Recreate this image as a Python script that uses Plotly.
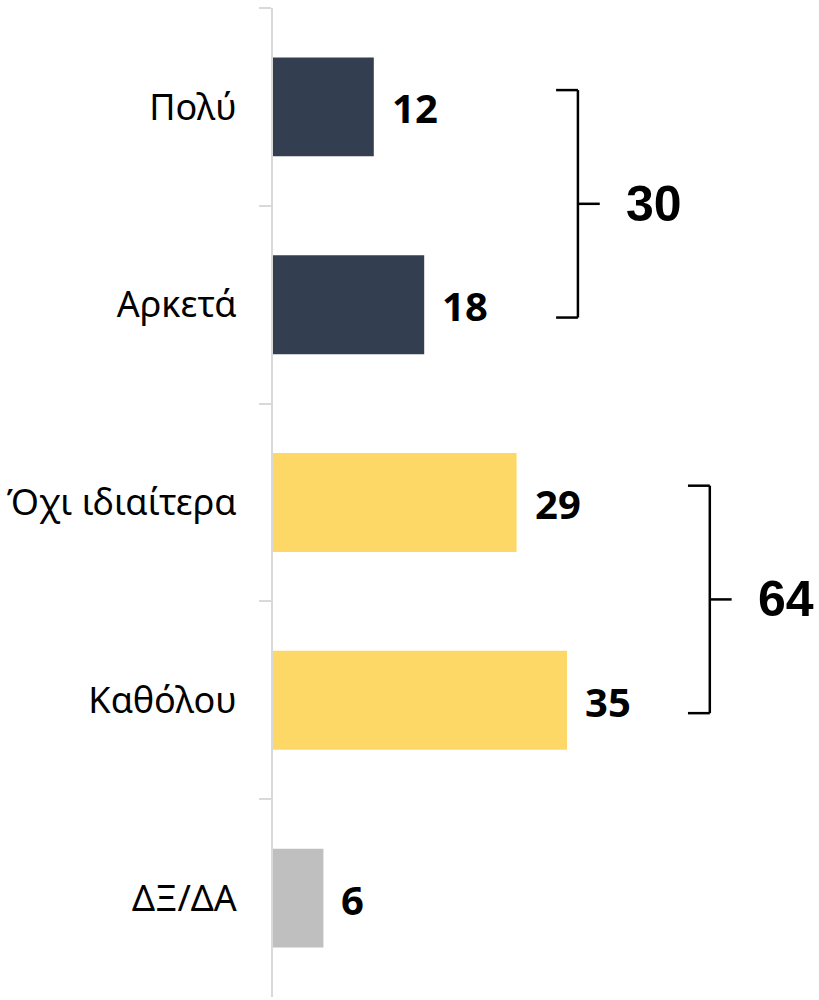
import plotly.graph_objects as go

categories = ["Πολύ", "Αρκετά", "Όχι ιδιαίτερα", "Καθόλου", "ΔΞ/ΔΑ"]
values = [12, 18, 29, 35, 6]
colors = ["#333E50", "#333E50", "#FDD867", "#FDD867", "#BFBFBF"]
group_members = [[0, 1], [2, 3]]
group_x = [36.3, 52.0]

fig = go.Figure()
fig.add_trace(go.Bar(
    y=categories, x=values, orientation="h",
    marker=dict(color=colors, line=dict(width=0)), width=0.5,
    hoverinfo="skip",
))

for i, v in enumerate(values):
    fig.add_annotation(x=v, y=i, xref="x", yref="y", text=str(v), showarrow=False,
                       xanchor="left", yanchor="middle", xshift=16, yshift=-1,
                       font=dict(family="Noto Sans", size=40, color="#000000", weight="bold"))

for members, gx in zip(group_members, group_x):
    total = sum(values[m] for m in members)
    y0 = members[0] - 0.085
    y1 = members[-1] + 0.065
    ym = (y0 + y1) / 2
    line = dict(color="#000000", width=2.5)
    fig.add_shape(type="line", xref="x", yref="y", x0=gx, x1=gx, y0=y0, y1=y1, line=line)
    fig.add_shape(type="line", xref="x", yref="y", x0=gx - 2.6, x1=gx, y0=y0, y1=y0, line=line)
    fig.add_shape(type="line", xref="x", yref="y", x0=gx - 2.6, x1=gx, y0=y1, y1=y1, line=line)
    fig.add_shape(type="line", xref="x", yref="y", x0=gx, x1=gx + 2.6, y0=ym, y1=ym, line=line)
    fig.add_annotation(x=gx + 2.6, y=ym, xref="x", yref="y", text=str(total), showarrow=False,
                       xanchor="left", yanchor="middle", xshift=24, yshift=0,
                       font=dict(family="Liberation Sans", size=50, color="#000000", weight="bold"))

fig.update_layout(
    width=819, height=1000,
    margin=dict(l=273, r=0, t=8, b=3, autoexpand=False),
    paper_bgcolor="white", plot_bgcolor="white",
    showlegend=False,
    xaxis=dict(range=[0, 65.0], visible=False, fixedrange=True, automargin=False),
    yaxis=dict(
        type="category", categoryorder="array", categoryarray=categories,
        range=[4.5, -0.5], automargin=False,
        showline=True, linecolor="#D9D9D9", linewidth=2,
        ticks="outside", tickcolor="#D9D9D9", ticklen=12, tickwidth=2,
        tickson="boundaries", showgrid=False, zeroline=False,
        ticklabelstandoff=27,
        tickfont=dict(family="Noto Sans", size=36, color="#000000"),
    ),
)

fig.write_html(
    "out.html",
    config={"displayModeBar": False},
    post_script="document.body.style.margin='0';document.body.style.overflow='hidden';",
)
